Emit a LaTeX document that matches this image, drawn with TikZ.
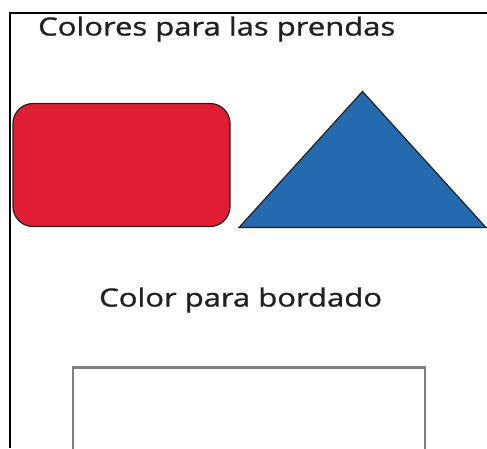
\documentclass[tikz,border=0pt]{standalone}
\usepackage{fontspec}
\setmainfont{Open Sans}
\newfontfamily\swatchfont[FakeStretch=1.24, FakeBold=1.2]{Open Sans}
\usetikzlibrary{positioning}
\definecolor{inkdark}{HTML}{231F20}
\definecolor{prendared}{HTML}{E01E33}
\definecolor{prendablue}{HTML}{236AAE}
\definecolor{bordegray}{HTML}{7F7F7F}
\tikzset{
  heading/.style = {inner sep=0pt, anchor=base west, text=inkdark, font=\swatchfont\fontsize{25}{30}\selectfont},
  swatch/.style  = {draw=inkdark, line width=1.2pt}
}

\begin{document}
\begin{tikzpicture}[x=1pt, y=-1pt]
\useasboundingbox (0,0) rectangle (487,448);
\clip (0,0) rectangle (487,448);
% frame
\draw[line width=2pt, black] (487,12.5) -- (9.5,12.5) -- (9.5,448);
% headings
\node[heading] (prendas) at (38,35.5) {Colores para las prendas};
\node[heading] (bordado) at (99,306.5) {Color para bordado};
% swatches
\draw[swatch, fill=prendared, rounded corners=20pt] (13,103.5) rectangle (230,226.5);
\draw[swatch, fill=prendablue] (239,227.5) -- (362.5,91.5) -- (486,227.5) -- cycle;
\draw[bordegray, line width=2.2pt] (73,460) |- (425,367.5) -- (425,460);
\end{tikzpicture}
\end{document}
